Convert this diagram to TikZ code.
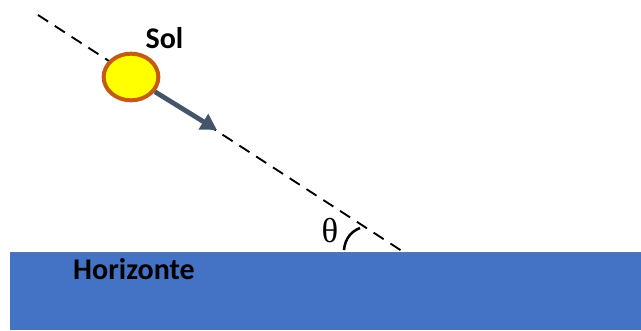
\documentclass[tikz,border=0pt]{standalone}
\usepackage{fontspec}
\setmainfont{Carlito}
\newfontfamily\thetafont{Liberation Serif}
\usepackage{xcolor}
\definecolor{sunfill}{RGB}{255,255,0}
\definecolor{sunedge}{RGB}{197,90,17}
\definecolor{rayblue}{RGB}{68,84,106}
\definecolor{groundblue}{RGB}{68,114,196}
\usetikzlibrary{shapes.geometric,arrows.meta,positioning}

\begin{document}
\begin{tikzpicture}[
  x=0.75pt,y=-0.75pt,
  sun/.style={ellipse,draw=sunedge,fill=sunfill,line width=3pt,minimum width=41pt,minimum height=35pt,inner sep=0pt},
  ground/.style={rectangle,fill=groundblue,draw=none,minimum width=473.25pt,minimum height=58.25pt,inner sep=0pt},
  lbl/.style={font=\fontsize{22.5}{26}\selectfont\bfseries,text=black,inner sep=0pt},
  ray/.style={black,line width=1.4pt,dash pattern=on 9pt off 6pt},
  arr/.style={-{Triangle[length=12pt,width=13pt]},rayblue,line width=3.6pt}]
  \useasboundingbox (0,0) rectangle (641,330);
  \node[ground](horizon) at (325.5,291.5){};
  \draw[groundblue!70!gray,line width=0.6pt](horizon.north west)--(horizon.north east);
  \coordinate (rayend) at (38,15);
  \coordinate (raystart) at (405,253);
  \coordinate (raytip) at (217,130);
  \draw[ray](rayend)--(raystart);
  \node[sun](sol) at (131,77){};
  \draw[arr](sol)--(raytip);
  \node[lbl](sollabel) at (164.5,38){Sol};
  \node[lbl](horlabel) at (134,269){Horizonte};
  \node[inner sep=0pt,font=\thetafont\fontsize{26}{28}\selectfont](theta) at (330,231){θ};
  \coordinate (arca) at (344,250);
  \coordinate (arcb) at (360,228);
  \draw[black,line width=1.9pt](arca) .. controls (345,238) and (352,231) .. (arcb);
\end{tikzpicture}
\end{document}
